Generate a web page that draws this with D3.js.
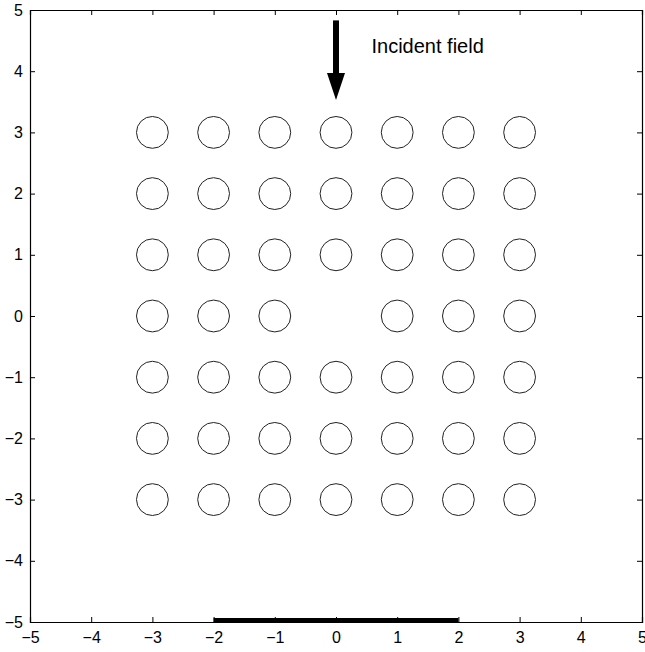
<!DOCTYPE html>
<html>
<head>
<meta charset="utf-8">
<script src="https://cdn.jsdelivr.net/npm/d3@7"></script>
<style>
  body { margin: 0; background: #fff; }
  text { font-family: "Liberation Sans", Arial, sans-serif; }
</style>
</head>
<body>
<script>
/* ------------------------------- chart data ------------------------------- */
const xTicks = [-5, -4, -3, -2, -1, 0, 1, 2, 3, 4, 5]
const yTicks = [-5, -4, -3, -2, -1, 0, 1, 2, 3, 4, 5]
const cylCols = [-3, -2, -1, 0, 1, 2, 3]
const cylRows = [3, 2, 1, 0, -1, -2, -3]
const defects = [[0, 0]]            // removed cylinder
const cylRadius = 0.26
const arrowX = 0, arrowTop = 4.83, arrowTip = 3.53, arrowHeadBase = 3.97
const label = "Incident field", labelX = 0.58, labelY = 4.3
const sourceSpan = [-2, 2]

/* --------------------------------- layout --------------------------------- */
const width = 645, height = 652
const margin = {left: 30, top: 10, right: 3, bottom: 30}

const x = d3.scaleLinear().domain([-5, 5]).range([margin.left, width - margin.right])
const y = d3.scaleLinear().domain([-5, 5]).range([height - margin.bottom, margin.top])

const svg = d3.select("body").append("svg")
    .attr("width", width)
    .attr("height", height)

/* ---------------------------------- axes ---------------------------------- */
const tick = 5
const fmt = d => d < 0 ? "\u2212" + (-d) : d
svg.append("g")
    .attr("transform", "translate(0," + y(-5) + ")")
    .call(d3.axisBottom(x).tickValues(xTicks).tickSize(-tick).tickPadding(tick + 5).tickFormat(fmt))
svg.append("g")
    .attr("transform", "translate(0," + y(5) + ")")
    .call(d3.axisTop(x).tickValues(xTicks).tickSize(-tick).tickFormat(""))
svg.append("g")
    .attr("transform", "translate(" + x(-5) + ",0)")
    .call(d3.axisLeft(y).tickValues(yTicks).tickSize(-tick).tickPadding(tick + 2).tickFormat(fmt))
svg.append("g")
    .attr("transform", "translate(" + x(5) + ",0)")
    .call(d3.axisRight(y).tickValues(yTicks).tickSize(-tick).tickFormat(""))

svg.selectAll(".domain").attr("stroke", "#000").attr("stroke-width", 1.2)
svg.selectAll(".tick line").attr("stroke", "#000")
svg.selectAll(".tick text").attr("font-size", 16).attr("fill", "#000")
    .attr("font-family", "Liberation Sans, Arial, sans-serif")

/* -------------------------------- cylinders ------------------------------- */
const cyl = []
cylRows.forEach(r => cylCols.forEach(c => {
    if (!defects.some(d => d[0] == c && d[1] == r)) cyl.push({c, r})
}))

svg.append("g").selectAll("circle").data(cyl).enter().append("circle")
    .attr("cx", d => x(d.c))
    .attr("cy", d => y(d.r))
    .attr("r", x(cylRadius) - x(0))
    .attr("fill", "none")
    .attr("stroke", "#222")
    .attr("stroke-width", 1)

/* ------------------------------ incident field ---------------------------- */
svg.append("line")
    .attr("x1", x(arrowX)).attr("x2", x(arrowX))
    .attr("y1", y(arrowTop)).attr("y2", y(arrowHeadBase) + 1)
    .attr("stroke", "#000").attr("stroke-width", 6)

const hw = 9
svg.append("path")
    .attr("d", "M" + (x(arrowX) - hw) + "," + y(arrowHeadBase) +
               "L" + (x(arrowX) + hw) + "," + y(arrowHeadBase) +
               "L" + x(arrowX) + "," + y(arrowTip) + "Z")
    .attr("fill", "#000")

svg.append("text")
    .attr("x", x(labelX))
    .attr("y", y(labelY))
    .attr("font-size", 20)
    .attr("fill", "#000")
    .text(label)

/* --------------------------------- source --------------------------------- */
svg.append("line")
    .attr("x1", x(sourceSpan[0])).attr("x2", x(sourceSpan[1]))
    .attr("y1", y(-5) - 2).attr("y2", y(-5) - 2)
    .attr("stroke", "#000").attr("stroke-width", 4)
</script>
</body>
</html>
